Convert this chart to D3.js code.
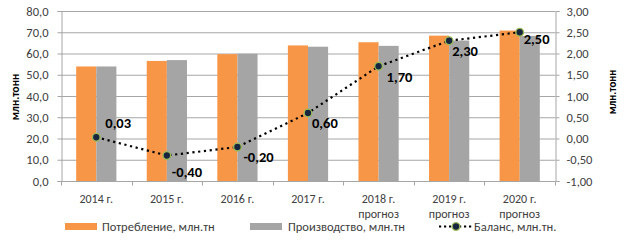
<!DOCTYPE html>
<html><head><meta charset="utf-8">
<script src="https://cdn.jsdelivr.net/npm/d3@7/dist/d3.min.js"></script>
<style>
body{margin:0;background:#fff;}
text{font-family:Carlito,Lato,"Liberation Sans",sans-serif;fill:#404040;}
</style></head><body>
<svg id="c" width="625" height="246"></svg>
<script>
const years = ["2014 г.","2015 г.","2016 г.","2017 г.","2018 г.","2019 г.","2020 г."];
const subLabels = ["","","","","прогноз","прогноз","прогноз"];
const consumption = [53.9,56.5,59.7,63.8,65.3,68.4,70.8];
const production = [53.9,56.9,59.9,63.2,63.6,66.1,68.3];
const balance = [0.03,-0.40,-0.20,0.60,1.70,2.30,2.50];
const leftTicks = [0,10,20,30,40,50,60,70,80];
const rightTicks = [-1,-0.5,0,0.5,1,1.5,2,2.5,3];
const seriesNames = ["Потребление, млн.тн","Производство, млн.тн","Баланс, млн.тн."];
const axisTitle = "млн.тонн";

// layout constants
const L=61, R=555, T=11, B=181;
const FS = 12.5, FSX = 12;
const labelOffsets = [[9,-9],[5,21],[6,15],[4,15],[8,16],[3,15],[4,12]];

const svg = d3.select("#c");
const x = d3.scaleBand().domain(years).range([L,R]);
const yL = d3.scaleLinear().domain([0,80]).range([B,T]);
const yR = d3.scaleLinear().domain([-1,3]).range([B,T]);
const fmt1 = d => d3.format(".1f")(d).replace(".",",").replace("−","-");
const fmt2 = d => d3.format(".2f")(d).replace(".",",").replace("−","-");

// gridlines
svg.append("g").selectAll("line").data(leftTicks.slice(1)).join("line")
  .attr("x1",L).attr("x2",R).attr("y1",d=>yL(d)+0.5).attr("y2",d=>yL(d)+0.5)
  .attr("stroke","#a6a6a6").attr("stroke-width",1);

// bars
const bw = x.bandwidth()*0.285;
const g = svg.append("g");
g.selectAll(".c").data(consumption).join("rect")
  .attr("x",(d,i)=>x(years[i])+x.bandwidth()/2-bw).attr("width",bw)
  .attr("y",d=>yL(d)).attr("height",d=>B-yL(d)).attr("fill","#f79646");
g.selectAll(".p").data(production).join("rect")
  .attr("x",(d,i)=>x(years[i])+x.bandwidth()/2).attr("width",bw)
  .attr("y",d=>yL(d)).attr("height",d=>B-yL(d)).attr("fill","#a5a5a5");

// left axis
const axL = svg.append("g").attr("transform",`translate(${L+0.5},0)`)
  .call(d3.axisLeft(yL).tickValues(leftTicks).tickFormat(fmt1).tickSize(4).tickPadding(9));
// right axis
const axR = svg.append("g").attr("transform",`translate(${R+0.5},0)`)
  .call(d3.axisRight(yR).tickValues(rightTicks).tickFormat(fmt2).tickSize(4).tickPadding(7));
// bottom axis
const axB = svg.append("g").attr("transform",`translate(0,${B+0.5})`)
  .call(d3.axisBottom(x).tickSize(0).tickPadding(13));
[axL,axR,axB].forEach(a=>{
  a.select(".domain").attr("stroke","#a6a6a6");
  a.selectAll(".tick line").attr("stroke","#a6a6a6");
  a.selectAll("text").attr("font-size",FS).attr("fill","#404040")
   .style("font-family","Carlito,Lato,'Liberation Sans',sans-serif");
});
axB.selectAll("text").attr("font-size",FSX);
axB.select(".domain").attr("d",`M${L},0H${R}`);
// category boundary ticks
axB.append("g").selectAll("line").data(d3.range(years.length+1)).join("line")
  .attr("x1",i=>Math.round(L+i*x.step())+0.5).attr("x2",i=>Math.round(L+i*x.step())+0.5)
  .attr("y1",0).attr("y2",4).attr("stroke","#a6a6a6");
axR.selectAll(".tick text").attr("text-anchor","start");
// sub labels
svg.append("g").selectAll("text").data(subLabels).join("text")
  .attr("x",(d,i)=>x(years[i])+x.bandwidth()/2).attr("y",217.5)
  .attr("text-anchor","middle").attr("font-size",FSX).text(d=>d);

// axis titles
svg.append("text").attr("transform","translate(19,97) rotate(-90)")
  .attr("text-anchor","middle").attr("font-size",11.5).attr("font-weight","bold")
  .style("fill","#000").text(axisTitle);
svg.append("text").attr("transform","translate(616,92) rotate(-90)")
  .attr("text-anchor","middle").attr("font-size",11).attr("font-weight","bold")
  .style("fill","#000").text(axisTitle);

// balance line
const cx = i => x(years[i])+x.bandwidth()/2;
svg.append("path").datum(balance)
  .attr("d",d3.line().x((d,i)=>cx(i)).y(d=>yR(d)))
  .attr("fill","none").attr("stroke","#000").attr("stroke-width",2.2)
  .attr("stroke-dasharray","2.2,3.6");
svg.append("g").selectAll("circle").data(balance).join("circle")
  .attr("cx",(d,i)=>cx(i)).attr("cy",d=>yR(d)).attr("r",3.8)
  .attr("fill","#17253f").attr("stroke","#9bbb59").attr("stroke-width",1.3);
svg.append("g").selectAll("text").data(balance).join("text")
  .attr("x",(d,i)=>cx(i)+labelOffsets[i][0]).attr("y",(d,i)=>yR(d)+labelOffsets[i][1])
  .attr("font-size",14.5).attr("font-weight","bold").style("fill","#000")
  .text(d=>fmt2(d));

// legend
const lg = svg.append("g");
lg.append("rect").attr("x",65).attr("y",223).attr("width",32).attr("height",7).attr("fill","#f79646");
lg.append("text").attr("x",102).attr("y",231).attr("font-size",FS).text(seriesNames[0]);
lg.append("rect").attr("x",250).attr("y",223).attr("width",32).attr("height",7).attr("fill","#a5a5a5");
lg.append("text").attr("x",288).attr("y",231).attr("font-size",FS).text(seriesNames[1]);
lg.append("line").attr("x1",439).attr("x2",472).attr("y1",226.5).attr("y2",226.5)
  .attr("stroke","#000").attr("stroke-width",2.2).attr("stroke-dasharray","2.2,2.8");
lg.append("circle").attr("cx",456).attr("cy",226.5).attr("r",3.8)
  .attr("fill","#17253f").attr("stroke","#9bbb59").attr("stroke-width",1.3);
lg.append("text").attr("x",474).attr("y",231).attr("font-size",FS).text(seriesNames[2]);
</script></body></html>
